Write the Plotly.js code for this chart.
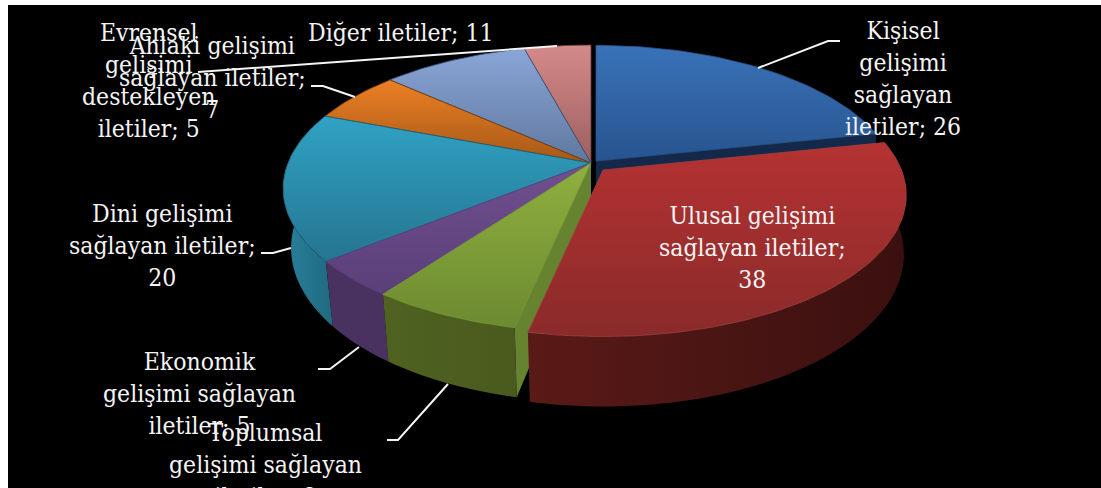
<!DOCTYPE html>
<html><head><meta charset="utf-8">
<script src="https://cdn.plot.ly/plotly-3.0.1.min.js"></script>
<style>html,body{margin:0;padding:0;background:#fff;overflow:hidden}</style>
</head><body><div id="chart" style="width:1101px;height:488px"></div>
<script>
// ---- data, clockwise from 12 o'clock
const categories = ["Kişisel gelişimi sağlayan iletiler","Ulusal gelişimi sağlayan iletiler","Toplumsal gelişimi sağlayan iletiler","Ekonomik gelişimi sağlayan iletiler","Dini gelişimi sağlayan iletiler","Ahlaki gelişimi sağlayan iletiler","Diğer iletiler","Evrensel gelişimi destekleyen iletiler"];
const values = [26,38,8,5,20,7,11,5];
const labelLines = [
 ["Kişisel","gelişimi","sağlayan","iletiler; 26"],
 ["Ulusal gelişimi","sağlayan iletiler;","38"],
 ["Toplumsal","gelişimi sağlayan","iletiler; 8"],
 ["Ekonomik","gelişimi sağlayan","iletiler; 5"],
 ["Dini gelişimi","sağlayan iletiler;","20"],
 ["Ahlaki gelişimi","sağlayan iletiler;","7"],
 ["Diğer iletiler; 11"],
 ["Evrensel","gelişimi","destekleyen","iletiler; 5"]
];
// ---- styling
const topColors = [["#27548f","#3a72b8"],["#8a2a2a","#b53232"],["#6c8a30","#8fb040"],["#5a3f78","#70508f"],["#257590","#30a2c4"],["#a55817","#ec8024"],["#5f789e","#8aa6d8"],["#9c5f5f","#d58a8a"]];
const wallColors = [["#14294a","#14294a"],["#5a1a17","#3a100f"],["#4f6220","#4a5a1e"],["#4a3260","#4a3260"],["#2a7f9c","#1f6a80"],["#a55817","#a55817"],["#5f789e","#5f789e"],["#9c5f5f","#9c5f5f"]];
const edgeColors = ["#2a5590","#a04040","#7f9f3a","#5c4080","#1f5f78","#6a3a10","#3f5070","#5a3a3a"];
const apexX = [596,603,591,591,591,591,591,591];
const apexY = [161,170,163,163,163,163,163,163];
const sliceScale = [0.98,0.985,1,1,1,1,1,1];
const labelX = [903,752,265,199,162,212,401,148];
const labelTop = [14,199,416,345,197,29,16,16];
const cutFaceColors = {0:"#14294a",2:"#66842f"};
const A = 303, B = 139, K = 0.178, H = 57.5, NARROW_LEFT = 0.026, NARROW_RIGHT = 0.008;

const total = values.reduce((a,b)=>a+b,0);
function proj(i,deg,r,z){
  const t = deg*Math.PI/180, X = r*Math.sin(t), Y = r*Math.cos(t), w = 1+K*Y, s = sliceScale[i];
  const narrow = X<0 ? NARROW_LEFT : NARROW_RIGHT;
  return [apexX[i]+s*A*X/w*(1-narrow*z), apexY[i]-s*B*Y/w+H*z/w];
}
function arc(i,a0,a1,z){
  const n = Math.max(2,Math.ceil(Math.abs(a1-a0)/1.5)), p=[];
  for(let k=0;k<=n;k++) p.push(proj(i,a0+(a1-a0)*k/n,1,z));
  return p;
}
function poly(pts,fillA,fillB,dir,line,lw){
  const xs=pts.map(p=>p[0]).concat(pts[0][0]), ys=pts.map(p=>p[1]).concat(pts[0][1]);
  return {type:"scatter",mode:lw?"lines":"none",x:xs,y:ys,fill:"toself",hoverinfo:"skip",showlegend:false,
    line:{color:line||fillA,width:lw||0},
    fillcolor:fillA,
    fillgradient:{type:dir,colorscale:[[0,fillA],[1,fillB]]}};
}
// slice angle ranges
const ranges=[]; let acc=0;
values.forEach(v=>{ranges.push([acc/total*360,(acc+v)/total*360]);acc+=v;});

function topOf(i){
  const [a,b]=ranges[i];
  return poly([proj(i,0,0,0)].concat(arc(i,a,b,0)),topColors[i][0],topColors[i][1],"vertical",edgeColors[i],0.8);
}
function wallOf(i){
  const [a,b]=ranges[i];
  return poly(arc(i,a,b,0).concat(arc(i,a,b,1).reverse()),wallColors[i][0],wallColors[i][1],"horizontal");
}
function cutFace(i,ang){
  return poly([proj(i,0,0,0),proj(i,ang,1,0),proj(i,ang,1,1),proj(i,0,0,1)],cutFaceColors[i],cutFaceColors[i],"horizontal");
}
// painter's order: back to front
const traces=[];
traces.push(cutFace(0,ranges[0][1]));
traces.push(topOf(0));
[7,6,5].forEach(i=>traces.push(topOf(i)));
traces.push(wallOf(4)); traces.push(topOf(4));
traces.push(wallOf(3)); traces.push(topOf(3));
traces.push(cutFace(2,ranges[2][0]));
traces.push(wallOf(2)); traces.push(topOf(2));
traces.push(wallOf(1)); traces.push(topOf(1));

const annotations = labelLines.map((l,i)=>({
  text:l.join("<br>"),x:labelX[i],y:labelTop[i],xref:"x",yref:"y",xanchor:"center",yanchor:"top",
  showarrow:false,align:"center",font:{family:"'DejaVu Serif Condensed','DejaVu Serif',serif",size:24.5,color:"#f4f4f4"}
}));

const leaderPaths = ["M758,68 L828,41 L840,41","M311,86 L323,86 L355,97","M198,72 L557,46","M261,253 L273,253 L291,248","M318,369 L330,369 L359,347","M387,440 L398,440 L448,384"];
const shapes = leaderPaths.map(p=>({type:"path",path:p,xref:"x",yref:"y",line:{color:"#f4f4f4",width:2}}));

Plotly.newPlot("chart",traces,{
  width:1101,height:488,margin:{l:8,r:0,t:5,b:0,pad:0},
  paper_bgcolor:"#ffffff",plot_bgcolor:"#000000",showlegend:false,
  xaxis:{range:[8,1101],visible:false,fixedrange:true},
  yaxis:{range:[488,5],visible:false,fixedrange:true},
  annotations,shapes
},{displayModeBar:false,staticPlot:true});
</script></body></html>
